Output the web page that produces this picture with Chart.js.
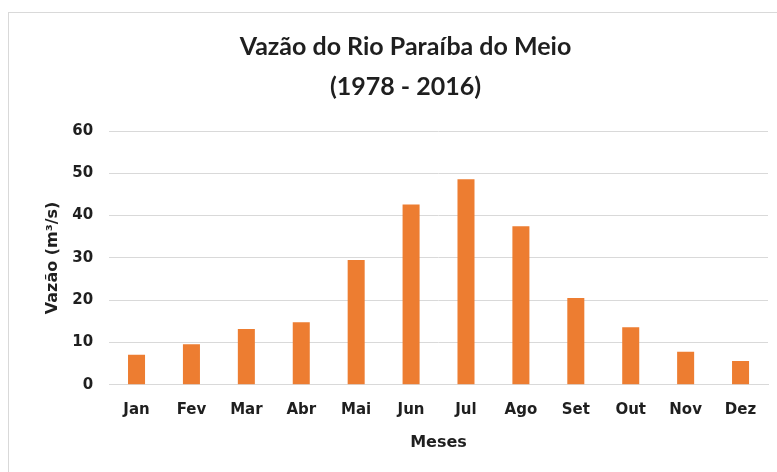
<!DOCTYPE html>
<html>
<head>
<meta charset="utf-8">
<script src="https://cdn.jsdelivr.net/npm/chart.js@4.4.1/dist/chart.umd.min.js"></script>
<style>
    html, body { margin: 0; padding: 0; background: #fff; overflow: hidden; }
    #frame { position: absolute; left: 8px; top: 12px; width: 800px; height: 500px; border: 1px solid #d9d9d9; }
    #wrap { position: absolute; left: 0; top: 0; width: 777px; height: 472px; }
</style>
</head>
<body>
<div id="frame"></div>
<div id="wrap"><canvas id="vazaoChart" width="777" height="472"></canvas></div>
<script>
// Monthly mean discharge
const meses = ['Jan', 'Fev', 'Mar', 'Abr', 'Mai', 'Jun', 'Jul', 'Ago', 'Set', 'Out', 'Nov', 'Dez'];
const vazao = [7.1, 9.6, 13.2, 14.8, 29.5, 42.6, 48.6, 37.5, 20.5, 13.6, 7.8, 5.6];
const tituloLinhas = ['Vazão do Rio Paraíba do Meio', '(1978 - 2016)'];

const fonteTitulo = 'Lato, "Open Sans", sans-serif';
const fonteEixo = '"DejaVu Sans", sans-serif';
const corTexto = '#1f1f1f';
const semCor = 'rgba(0,0,0,0)';

const ctx = document.getElementById('vazaoChart').getContext('2d');
new Chart(ctx, {
    type: 'bar',
    data: {
        labels: meses,
        datasets: [{
            label: 'Vazão',
            data: vazao,
            backgroundColor: '#ed7d31',
            borderWidth: 0,
            barPercentage: 0.31,
            categoryPercentage: 1.0
        }]
    },
    options: {
        responsive: false,
        animation: false,
        layout: {
            padding: { top: 27, right: 9, bottom: 20, left: 43 }
        },
        plugins: {
            legend: { display: false },
            tooltip: { enabled: false },
            title: {
                display: true,
                text: tituloLinhas,
                color: corTexto,
                font: { family: fonteTitulo, size: 25, weight: 'bold', lineHeight: 1.6 },
                padding: { top: 0, bottom: 24 }
            }
        },
        scales: {
            x: {
                grid: { display: true, drawOnChartArea: false, tickLength: 8, tickColor: semCor },
                border: { display: true, color: '#d9d9d9' },
                ticks: {
                    color: corTexto,
                    font: { family: fonteEixo, size: 15, weight: 'bold' },
                    padding: 8
                },
                title: {
                    display: true,
                    text: 'Meses',
                    color: corTexto,
                    font: { family: fonteEixo, size: 16, weight: 'bold' },
                    padding: { top: 6, bottom: 0 }
                }
            },
            y: {
                min: 0,
                max: 60,
                grid: { color: '#d9d9d9', tickLength: 6, tickColor: semCor },
                border: { display: false },
                ticks: {
                    stepSize: 10,
                    color: corTexto,
                    font: { family: fonteEixo, size: 15, weight: 'bold' },
                    padding: 10
                },
                title: {
                    display: true,
                    text: 'Vazão (m³/s)',
                    color: corTexto,
                    font: { family: fonteEixo, size: 16, weight: 'bold' },
                    padding: { top: 0, bottom: 0 }
                }
            }
        }
    }
});
</script>
</body>
</html>
